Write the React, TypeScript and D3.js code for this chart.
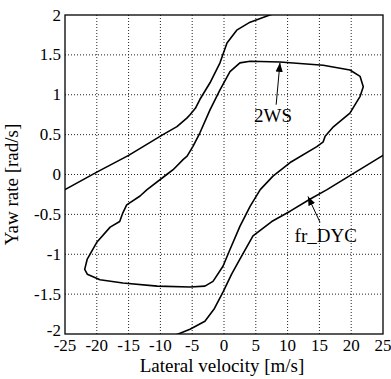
import React from 'react';
import * as d3 from 'd3';

// tick values on both axes
const xTicks = [-25, -20, -15, -10, -5, 0, 5, 10, 15, 20, 25];
const yTicks = [-2, -1.5, -1, -0.5, 0, 0.5, 1, 1.5, 2];

// 2WS closed loop [lateral velocity, yaw rate]
const ws2Loop: [number, number][] = [
  [-12.1, -0.19], [-9.0, 0.0], [-8.0, 0.06], [-6.4, 0.19], [-5.8, 0.23], [-4.9, 0.35],
  [-3.8, 0.52], [-2.2, 0.81], [-0.63, 1.06], [0.94, 1.29], [2.5, 1.4], [4.1, 1.42],
  [8.8, 1.41], [15.6, 1.37], [19.8, 1.31], [21.4, 1.23], [21.9, 1.1], [21.4, 0.98],
  [19.8, 0.77], [17.1, 0.59], [15.9, 0.48], [15.6, 0.41], [14.6, 0.35], [10.4, 0.15],
  [7.7, -0.02], [5.7, -0.19], [4.1, -0.4], [2.5, -0.65], [0.94, -0.94], [-0.16, -1.15],
  [-1.73, -1.34], [-3.0, -1.4], [-5.35, -1.41], [-10.5, -1.4], [-15.9, -1.36],
  [-19.5, -1.32], [-21.5, -1.25], [-21.9, -1.19], [-21.5, -1.06], [-20, -0.85],
  [-17.9, -0.66], [-16.4, -0.59], [-15.9, -0.48], [-15.3, -0.38], [-13.2, -0.27],
  [-12.1, -0.19],
];

// fr_DYC, upper-left branch
const dycUpper: [number, number][] = [
  [-25, -0.19], [-20, 0.03], [-15, 0.24], [-9.6, 0.5], [-7.4, 0.6], [-5.8, 0.71],
  [-5.35, 0.75], [-4.5, 0.83], [-3.8, 0.94], [-2.2, 1.15], [-0.63, 1.4], [0.47, 1.65],
  [2.0, 1.81], [4.1, 1.91], [7.2, 2.0], [9, 2.05],
];

// fr_DYC, lower-right branch
const dycLower: [number, number][] = [
  [-9, -2.05], [-7.2, -2.0], [-5.35, -1.94], [-3.0, -1.84], [-1.5, -1.68], [-0.16, -1.475],
  [1.2, -1.25], [2.5, -1.06], [4.56, -0.77], [7.5, -0.59], [10.4, -0.46], [13.5, -0.31],
  [16.2, -0.19], [25, 0.24],
];

// annotations: label, text anchor point, arrow start, arrow tip (data units)
const notes = [
  { label: '2WS', at: [7.7, 0.66], from: [8.2, 0.875], to: [8.8, 1.4] },
  { label: 'fr_DYC', at: [16.0, -0.85], from: [15.1, -0.6], to: [13.2, -0.275] },
];

const W = 391;
const H = 379;
const font = 'Liberation Serif, Times New Roman, DejaVu Serif, serif';

const App = () => {
  const x = d3.scaleLinear().domain([-25, 25]).range([65, 383]);
  const y = d3.scaleLinear().domain([-2, 2]).range([334, 15]);

  const line = d3.line<[number, number]>()
    .x(d => x(d[0]))
    .y(d => y(d[1]));

  const [x0, x1] = x.range();
  const [y0, y1] = y.range();
  const ts = { fontFamily: font };

  return (
    <svg width={W} height={H} style={{ position: 'absolute', left: 0, top: 0, background: '#fff', fontFamily: font }}>
      <defs>
        <clipPath id="plot">
          <rect x={x0} y={y1} width={x1 - x0} height={y0 - y1} />
        </clipPath>
        <marker id="head" viewBox="0 0 10 10" refX="10" refY="5" markerWidth="9" markerHeight="9"
          markerUnits="userSpaceOnUse" orient="auto">
          <path d="M0,1 L10,5 L0,9 Z" fill="#000" />
        </marker>
      </defs>

      {/* dotted grid */}
      <g stroke="#222" strokeWidth={1} strokeDasharray="1,2">
        {xTicks.slice(1, -1).map(t => (
          <line key={'gx' + t} x1={x(t)} x2={x(t)} y1={y0} y2={y1} />
        ))}
        {yTicks.slice(1, -1).map(t => (
          <line key={'gy' + t} x1={x0} x2={x1} y1={y(t)} y2={y(t)} />
        ))}
      </g>

      {/* curves */}
      <g clipPath="url(#plot)" fill="none" stroke="#000" strokeWidth={1.6} strokeLinejoin="round">
        <path d={line(ws2Loop) || ''} />
        <path d={line(dycUpper) || ''} />
        <path d={line(dycLower) || ''} />
      </g>

      {/* frame */}
      <rect x={x0} y={y1} width={x1 - x0} height={y0 - y1} fill="none" stroke="#000" strokeWidth={1.3} />

      {/* tick labels */}
      <g fontSize={17} fill="#000">
        {yTicks.map(t => (
          <text key={'ty' + t} style={ts} x={x0 - 4} y={y(t) - (t === -2 ? 4 : 0)} textAnchor="end"
            dominantBaseline="central">{String(t)}</text>
        ))}
        {xTicks.map(t => (
          <text key={'tx' + t} style={ts} x={x(t)} y={351} textAnchor="middle">{String(t)}</text>
        ))}
      </g>

      {/* axis titles */}
      <text style={ts} x={(x0 + x1) / 2 - 2} y={372} textAnchor="middle" fontSize={19}>Lateral velocity [m/s]</text>
      <text style={ts} transform={`translate(18,${(y0 + y1) / 2 + 10}) rotate(-90)`} textAnchor="middle" fontSize={19}>
        Yaw rate [rad/s]
      </text>

      {/* annotations */}
      {notes.map(n => (
        <g key={n.label}>
          <line x1={x(n.from[0])} y1={y(n.from[1])} x2={x(n.to[0])} y2={y(n.to[1])}
            stroke="#000" strokeWidth={1} markerEnd="url(#head)" />
          <text style={ts} x={x(n.at[0])} y={y(n.at[1])} textAnchor="middle" fontSize={19}>{n.label}</text>
        </g>
      ))}
    </svg>
  );
};

export default App;
